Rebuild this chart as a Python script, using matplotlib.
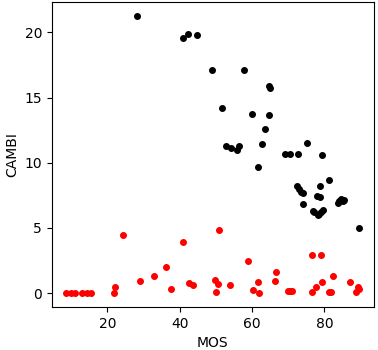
import matplotlib
matplotlib.use('Agg')
import matplotlib.pyplot as plt

# Pontos pretos (grupo com CAMBI alto)
mos_preto = [28.3, 40.9, 42.4, 44.9, 49.0, 57.8, 64.6, 65.0, 51.8, 60.0,
             64.7, 63.6, 52.7, 54.2, 55.9, 56.5, 62.8, 69.2, 70.5, 72.7,
             75.2, 79.4, 61.7, 81.3, 72.4, 72.9, 73.4, 74.0, 78.8, 78.0,
             78.9, 74.0, 76.7, 77.1, 78.1, 78.6, 79.1, 79.6, 83.8, 84.1,
             84.6, 85.0, 85.5, 89.6]
cambi_preto = [21.24, 19.55, 19.85, 19.77, 17.09, 17.09, 15.89, 15.71, 14.17, 13.71,
               13.64, 12.56, 11.26, 11.10, 11.0, 11.26, 11.41, 10.64, 10.64, 10.64,
               11.49, 10.57, 9.65, 8.65, 8.21, 7.96, 7.77, 7.65, 8.19, 7.44,
               7.34, 6.81, 6.29, 6.24, 5.96, 6.09, 6.22, 6.35, 6.95, 7.1,
               7.2, 7.05, 7.15, 4.96]

# Pontos vermelhos (grupo com CAMBI baixo)
mos_vermelho = [8.7, 10.1, 11.2, 13.0, 14.4, 15.6, 21.9, 22.2, 24.4, 29.1,
                33.0, 36.3, 37.7, 41.0, 42.5, 43.7, 50.9, 49.8, 50.6, 50.1,
                53.9, 58.9, 60.3, 62.0, 61.7, 66.7, 66.4, 69.8, 70.4, 71.1,
                76.6, 79.1, 76.6, 77.7, 79.4, 82.4, 81.3, 81.8, 87.1, 89.2,
                89.5, 88.6]
cambi_vermelho = [0, 0, 0, 0, 0, 0, 0, 0.44, 4.43, 0.90,
                  1.28, 1.97, 0.28, 3.89, 0.74, 0.59, 4.81, 0.97, 0.67, 0.05,
                  0.59, 2.43, 0.21, 0.0, 0.82, 1.59, 0.90, 0.13, 0.13, 0.13,
                  2.89, 2.89, 0.05, 0.44, 0.82, 1.28, 0.05, 0.05, 0.82, 0.44,
                  0.28, 0.05]

fig = plt.figure(figsize=(3.78, 3.5), dpi=100)
ax = fig.add_axes([0.137, 0.123, 0.852, 0.870])
ax.scatter(mos_preto, cambi_preto, s=16, color='black')
ax.scatter(mos_vermelho, cambi_vermelho, s=16, color='red')
ax.set_xlabel('MOS')
ax.set_ylabel('CAMBI')
ax.set_xticks([20, 40, 60, 80])
ax.set_yticks([0, 5, 10, 15, 20])
fig.savefig('out.png', dpi=100)
